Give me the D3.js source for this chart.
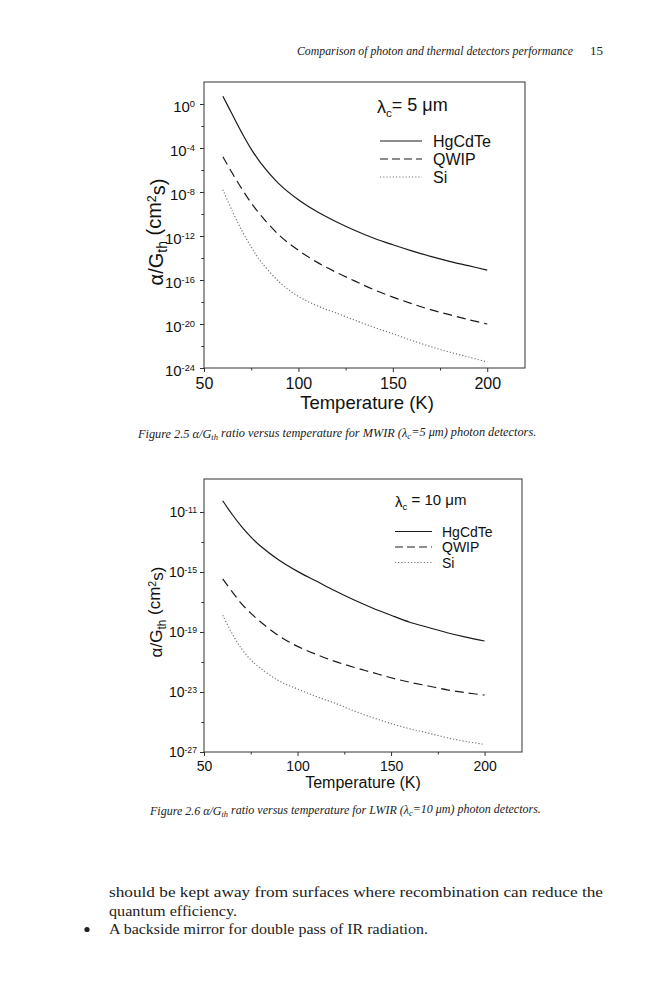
<!DOCTYPE html>
<html>
<head>
<meta charset="utf-8">
<script src="https://cdn.jsdelivr.net/npm/d3@7"></script>
<style>
  body { margin: 0; background: #fff; }
  svg { display: block; }
</style>
</head>
<body>
<svg id="page"></svg>
<script>
// values (alpha/Gth in cm^2 s vs temperature in K)
const temperature = [60, 65, 70, 75, 80, 90, 100, 110, 120, 130, 140, 150, 160, 170, 180, 190, 200];

// Figure 2.5, lambda_c = 5 um
const mwirHgCdTe = [5.0e0, 1.1e-1, 2.5e-3, 7.9e-5, 4.5e-6, 5.0e-8, 2.0e-9, 1.6e-10, 2.0e-11, 3.2e-12, 6.3e-13, 1.6e-13, 4.5e-14, 1.4e-14, 5.0e-15, 2.0e-15, 7.9e-16];
const mwirQWIP    = [1.6e-5, 5.0e-7, 2.0e-8, 1.0e-9, 7.9e-11, 1.1e-12, 5.0e-14, 4.0e-15, 5.0e-16, 7.9e-17, 1.3e-17, 2.8e-18, 7.1e-19, 2.0e-19, 7.1e-20, 2.5e-20, 1.0e-20];
const mwirSi      = [1.6e-8, 1.8e-10, 3.2e-12, 1.0e-13, 5.0e-15, 6.3e-17, 3.2e-18, 4.5e-19, 1.0e-19, 2.2e-20, 5.0e-21, 1.3e-21, 3.2e-22, 8.9e-23, 2.8e-23, 1.0e-23, 3.5e-24];

// Figure 2.6, lambda_c = 10 um
const lwirHgCdTe = [5.6e-11, 7.1e-12, 1.1e-12, 2.2e-13, 5.6e-14, 6.3e-15, 1.1e-15, 2.5e-16, 5.6e-17, 1.4e-17, 4.0e-18, 1.3e-18, 4.5e-19, 2.0e-19, 8.9e-20, 4.5e-20, 2.5e-20];
const lwirQWIP    = [3.5e-16, 5.0e-17, 7.9e-18, 1.8e-18, 5.0e-19, 5.6e-20, 1.1e-20, 3.2e-21, 1.1e-21, 4.5e-22, 2.0e-22, 8.9e-23, 4.5e-23, 2.5e-23, 1.4e-23, 8.9e-24, 6.3e-24];
const lwirSi      = [1.3e-18, 7.9e-20, 7.9e-21, 1.4e-21, 4.0e-22, 5.6e-23, 1.6e-23, 5.0e-24, 1.8e-24, 5.6e-25, 2.0e-25, 7.9e-26, 3.5e-26, 1.8e-26, 8.9e-27, 5.0e-27, 3.2e-27];

const seriesNames = ["HgCdTe", "QWIP", "Si"];

// ticks
const tempTicks  = [50, 100, 150, 200];
const tempMinor  = [75, 125, 175];
const mwirMajor  = [1e0, 1e-4, 1e-8, 1e-12, 1e-16, 1e-20, 1e-24];
const mwirMinor  = [1e-2, 1e-6, 1e-10, 1e-14, 1e-18, 1e-22];
const lwirMajor  = [1e-11, 1e-15, 1e-19, 1e-23, 1e-27];
const lwirMinor  = [1e-13, 1e-17, 1e-21, 1e-25];

const W = 666, H = 1000;
const SANS = "'Liberation Sans', Arial, sans-serif";
const SERIF = "'Liberation Serif', 'Times New Roman', serif";

const svg = d3.select("#page").attr("width", W).attr("height", H);

const styles = {
  HgCdTe: { stroke: "#1a1a1a", dash: null, width: 1.2 },
  QWIP:   { stroke: "#1a1a1a", dash: "9,5", width: 1.2 },
  Si:     { stroke: "#777", dash: "1.2,2", width: 1.2 }
};

// one panel of the page
function drawPanel(cfg, seriesValues) {
  const x = d3.scaleLinear().domain([50, 220]).range([cfg.left, cfg.right]);
  const y = d3.scaleLog().domain(cfg.yDomain).range([cfg.bottom, cfg.top]);
  const g = svg.append("g");

  g.append("rect")
    .attr("x", cfg.left).attr("y", cfg.top)
    .attr("width", cfg.right - cfg.left).attr("height", cfg.bottom - cfg.top)
    .attr("fill", "none").attr("stroke", "#333").attr("stroke-width", 1);

  // x axis
  const xg = g.append("g")
    .attr("transform", `translate(0,${cfg.bottom})`)
    .call(d3.axisBottom(x).tickValues(tempTicks).tickSize(4).tickSizeOuter(0)
      .tickPadding(cfg.xPad).tickFormat(d3.format("d")));
  xg.select(".domain").remove();
  xg.attr("font-family", SANS).attr("font-size", cfg.xTickFont);
  xg.selectAll("text").attr("fill", "#111");
  xg.selectAll("line").attr("stroke", "#333");

  const xm = g.append("g")
    .attr("transform", `translate(0,${cfg.bottom})`)
    .call(d3.axisBottom(x).tickValues(tempMinor).tickSize(2.5).tickFormat(""));
  xm.select(".domain").remove();
  xm.selectAll("line").attr("stroke", "#333");

  // y axis, labels as 10 with superscript exponent
  const yg = g.append("g")
    .attr("transform", `translate(${cfg.left},0)`)
    .call(d3.axisLeft(y).tickValues(cfg.major).tickSize(4).tickSizeOuter(0)
      .tickPadding(cfg.yPad).tickFormat(() => "10"));
  yg.select(".domain").remove();
  yg.attr("font-family", SANS).attr("font-size", cfg.yTickFont);
  yg.selectAll("line").attr("stroke", "#333");
  yg.selectAll(".tick text").attr("fill", "#111").attr("dy", cfg.yTickDy)
    .append("tspan")
    .attr("dy", "-0.55em")
    .attr("font-size", "0.62em")
    .text(d => Math.round(Math.log10(d)));

  const ym = g.append("g")
    .attr("transform", `translate(${cfg.left},0)`)
    .call(d3.axisLeft(y).tickValues(cfg.minor).tickSize(2.5).tickFormat(""));
  ym.select(".domain").remove();
  ym.selectAll("line").attr("stroke", "#333");

  // axis titles
  g.append("text")
    .attr("x", cfg.xTitleX).attr("y", cfg.xTitleY)
    .attr("text-anchor", "middle")
    .attr("font-family", SANS).attr("font-size", cfg.xTitleFont).attr("fill", "#111")
    .text("Temperature (K)");

  const yt = g.append("text")
    .attr("transform", `translate(${cfg.yTitleX},${cfg.yTitleY}) rotate(-90)`)
    .attr("text-anchor", "middle")
    .attr("dy", "0.35em")
    .attr("font-family", SANS).attr("font-size", cfg.yTitleFont).attr("fill", "#111");
  yt.append("tspan").text("α/G");
  yt.append("tspan").attr("dy", "0.3em").attr("font-size", "0.7em").text("th");
  yt.append("tspan").attr("dy", "-0.3em").text(" (cm");
  yt.append("tspan").attr("dy", "-0.45em").attr("font-size", "0.62em").text("2");
  yt.append("tspan").attr("dy", "0.45em").text("s)");

  // curves
  const line = d3.line()
    .x((d, i) => x(temperature[i]))
    .y(d => y(d))
    .curve(d3.curveCatmullRom.alpha(0.5));

  seriesNames.forEach((name, k) => {
    const s = styles[name];
    g.append("path")
      .attr("d", line(seriesValues[k]))
      .attr("fill", "none")
      .attr("stroke", s.stroke)
      .attr("stroke-width", s.width)
      .attr("stroke-dasharray", s.dash);
  });

  // legend
  const tt = g.append("text")
    .attr("x", cfg.titleX).attr("y", cfg.titleY)
    .attr("font-family", SANS).attr("font-size", cfg.titleFont).attr("fill", "#111");
  tt.append("tspan").text("λ");
  tt.append("tspan").attr("dy", "0.3em").attr("font-size", "0.65em").text("c");
  tt.append("tspan").attr("dy", "-0.3em").text(cfg.titleRest);

  seriesNames.forEach((name, k) => {
    const s = styles[name];
    const ly = cfg.legendY[k];
    g.append("line")
      .attr("x1", cfg.legendX1).attr("x2", cfg.legendX2)
      .attr("y1", ly).attr("y2", ly)
      .attr("stroke", s.stroke).attr("stroke-width", s.width)
      .attr("stroke-dasharray", name === "QWIP" ? "8,4" : s.dash);
    g.append("text")
      .attr("x", cfg.legendTextX).attr("y", ly)
      .attr("dy", "0.36em")
      .attr("font-family", SANS).attr("font-size", cfg.legendFont).attr("fill", "#111")
      .text(name);
  });
}

drawPanel({
  left: 204, right: 525, top: 82, bottom: 368,
  yDomain: [1e-24, 1e2], major: mwirMajor, minor: mwirMinor,
  xPad: 5.5, xTickFont: 16, yPad: 5, yTickFont: 15, yTickDy: "0.5em",
  xTitleX: 367, xTitleY: 408.5, xTitleFont: 18.5,
  yTitleX: 156, yTitleY: 232, yTitleFont: 20,
  titleX: 377, titleY: 113, titleFont: 18, titleRest: "= 5 μm",
  legendX1: 380, legendX2: 422, legendTextX: 433, legendY: [141, 159, 177], legendFont: 16
}, [mwirHgCdTe, mwirQWIP, mwirSi]);

drawPanel({
  left: 204, right: 522, top: 479, bottom: 752,
  yDomain: [1e-27, Math.pow(10, -8.8)], major: lwirMajor, minor: lwirMinor,
  xPad: 5.5, xTickFont: 14, yPad: 3, yTickFont: 14, yTickDy: "0.35em",
  xTitleX: 363, xTitleY: 787.5, xTitleFont: 16,
  yTitleX: 156, yTitleY: 612, yTitleFont: 17,
  titleX: 395, titleY: 507, titleFont: 15, titleRest: " = 10 μm",
  legendX1: 395, legendX2: 432, legendTextX: 442, legendY: [531.5, 547, 562.5], legendFont: 14
}, [lwirHgCdTe, lwirQWIP, lwirSi]);

// running head
svg.append("text")
  .attr("x", 297).attr("y", 55)
  .attr("font-family", SERIF).attr("font-style", "italic").attr("font-size", 11.8)
  .attr("fill", "#222")
  .text("Comparison of photon and thermal detectors performance");
svg.append("text")
  .attr("x", 590).attr("y", 55)
  .attr("font-family", SERIF).attr("font-size", 13).attr("fill", "#222")
  .text("15");

// figure captions
function caption(xPos, yPos, size, num, band, lam) {
  const t = svg.append("text")
    .attr("x", xPos).attr("y", yPos)
    .attr("font-family", SERIF).attr("font-style", "italic").attr("font-size", size)
    .attr("fill", "#222");
  t.append("tspan").text(`Figure ${num} α/G`);
  t.append("tspan").attr("dy", "0.25em").attr("font-size", "0.7em").text("th");
  t.append("tspan").attr("dy", "-0.25em").text(` ratio versus temperature for ${band} (λ`);
  t.append("tspan").attr("dy", "0.25em").attr("font-size", "0.7em").text("c");
  t.append("tspan").attr("dy", "-0.25em").text(`=${lam} μm) photon detectors.`);
}
caption(138, 437.5, 12.3, "2.5", "MWIR", "5");
caption(150, 814.5, 12.0, "2.6", "LWIR", "10");

// body text below the figures
const bodyLines = [
  { x: 109, y: 897, len: 494, text: "should be kept away from surfaces where recombination can reduce the" },
  { x: 109, y: 915.5, len: 128, text: "quantum efficiency." },
  { x: 109, y: 934, len: 319, text: "A backside mirror for double pass of IR radiation." }
];
bodyLines.forEach(l => {
  svg.append("text")
    .attr("x", l.x).attr("y", l.y)
    .attr("font-family", SERIF).attr("font-size", 15)
    .attr("textLength", l.len).attr("lengthAdjust", "spacingAndGlyphs")
    .attr("fill", "#222")
    .text(l.text);
});
svg.append("circle").attr("cx", 87).attr("cy", 929.5).attr("r", 2.6).attr("fill", "#222");
</script>
</body>
</html>
